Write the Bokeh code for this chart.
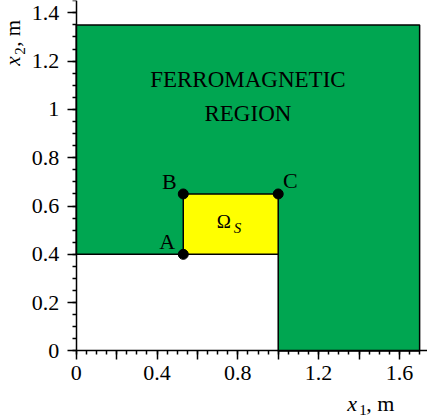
import math
import numpy as np
from bokeh.plotting import figure
from bokeh.models import Label, FixedTicker, Range1d
from bokeh.embed import file_html
from bokeh.resources import INLINE

# ---------------- data ----------------
region_x_max = 1.7          # right edge of the ferromagnetic region
region_y_max = 1.35         # top edge of the ferromagnetic region
air_x_max = 1.0             # corner of the empty (white) area
air_y_max = 0.4
source_x = [0.53, 1.0]      # Omega_S rectangle (x extent)
source_y = [0.4, 0.65]      # Omega_S rectangle (y extent)
point_names = ["A", "B", "C"]
point_x = [0.53, 0.53, 1.0]
point_y = [0.4, 0.65, 0.65]
region_text = ["FERROMAGNETIC", "REGION"]
region_text_y = [1.122, 0.983]
x_tick_vals = [0, 0.2, 0.4, 0.6, 0.8, 1.0, 1.2, 1.4, 1.6]
x_tick_labels = ["0", "", "0.4", "", "0.8", "", "1.2", "", "1.6"]
y_tick_vals = [0, 0.2, 0.4, 0.6, 0.8, 1.0, 1.2, 1.4]
y_tick_labels = ["0", "0.2", "0.4", "0.6", "0.8", "1", "1.2", "1.4"]
x_axis_end = 1.739
y_axis_end = 1.451

SERIF = "Liberation Serif"
GREEN = "#00A651"
YELLOW = "#FFFF00"

p = figure(width=427, height=420, output_backend="svg", toolbar_location=None,
           x_range=Range1d(-0.3748, x_axis_end), y_range=Range1d(-0.288, y_axis_end),
           min_border_left=0, min_border_right=0, min_border_top=0,
           min_border_bottom=0)
p.outline_line_color = None
p.grid.visible = False


def txt(x, y, text, size, dx=0, dy=0, align="center", italic=False, angle=0):
    p.add_layout(Label(x=x, y=y, text=text, x_offset=dx, y_offset=dy, angle=angle,
                       text_align=align, text_baseline="middle", text_font=SERIF,
                       text_font_size=size, text_color="black",
                       text_font_style="italic" if italic else "normal"))


# regions
p.patch(x=[0, 0, region_x_max, region_x_max, air_x_max, air_x_max],
        y=[air_y_max, region_y_max, region_y_max, 0, 0, air_y_max],
        fill_color=GREEN, line_color="black", line_width=1.5)
p.quad(left=[source_x[0]], right=[source_x[1]], bottom=[source_y[0]], top=[source_y[1]],
       fill_color=YELLOW, line_color="black", line_width=1.5)
p.scatter(point_x, point_y, size=10, color="black")

# point labels
pt_dx = [-16, -14, 12]
pt_dy = [12.5, 12.5, 13]
for name, px, py, dx, dy in zip(point_names, point_x, point_y, pt_dx, pt_dy):
    txt(px, py, name, "22px", dx=dx, dy=dy)

# region text
for t, ty in zip(region_text, region_text_y):
    txt(region_x_max / 2, ty, t, "23px")

# Omega_S
cx = sum(source_x) / 2
cy = sum(source_y) / 2
txt(cx, cy, "Ω", "19px", dx=0, dy=2.5, align="right")
txt(cx, cy, "S", "15px", dx=3, dy=-3.8, align="left", italic=True)

# axes (fixed at the origin so the frame spans the whole canvas)
minor = [round(v, 2) for v in np.arange(0, 1.76, 0.05)]
for ax, vals, labs, end in ((p.xaxis[0], x_tick_vals, x_tick_labels, x_axis_end),
                            (p.yaxis[0], y_tick_vals, y_tick_labels, y_axis_end)):
    ax.fixed_location = 0
    ax.bounds = (0, end)
    ax.ticker = FixedTicker(ticks=vals, minor_ticks=minor)
    ax.major_label_overrides = {v: l for v, l in zip(vals, labs)}
    ax.axis_line_color = "black"
    ax.axis_line_width = 1.5
    ax.major_tick_line_width = 1.5
    ax.minor_tick_line_width = 1.5
    ax.major_tick_in = 0
    ax.major_tick_out = 9
    ax.minor_tick_in = 0
    ax.minor_tick_out = 4
    ax.major_label_text_font = SERIF
    ax.major_label_text_font_size = "22px"
    ax.major_label_text_color = "black"
p.xaxis.major_label_standoff = 6
p.yaxis.major_label_standoff = 8

# x-axis label: x_1, m
lx, ly = 1.3416, -0.2158
txt(lx, ly, "x", "22px", align="left", italic=True)
txt(lx, ly, "1", "15px", dx=12, dy=-7.4, align="left")
txt(lx, ly, ", m", "22px", dx=19, align="left")

# y-axis label: x_2, m (rotated)
yx, yy = -0.3153, 1.181
ang = math.pi / 2
txt(yx, yy, "x", "21px", align="left", italic=True, angle=ang)
txt(yx, yy, "2", "15px", dx=7, dy=11, align="left", angle=ang)
txt(yx, yy, ", m", "21px", dy=19, align="left", angle=ang)

open("out.html", "w").write(file_html(p, INLINE))
